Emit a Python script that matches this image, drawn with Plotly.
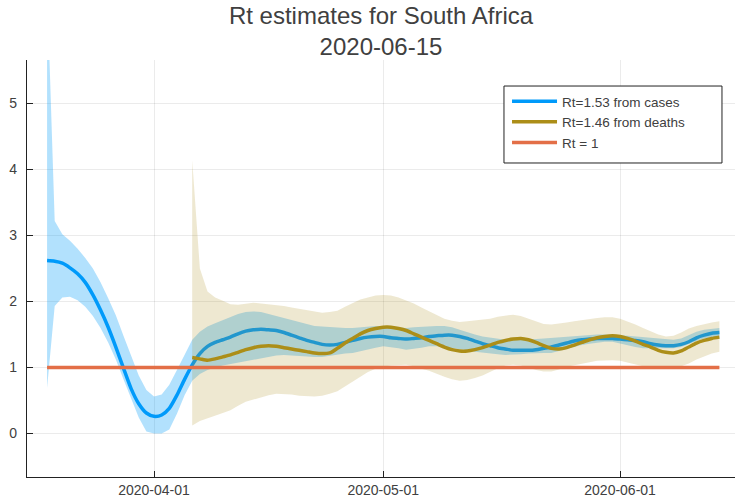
import pandas as pd
import plotly.graph_objects as go

# ---- data -------------------------------------------------------------
cases_start = "2020-03-18"
cases_rt = [2.62, 2.61, 2.58, 2.51, 2.42, 2.29, 2.10, 1.87, 1.61, 1.31,
            0.99, 0.68, 0.45, 0.31, 0.26, 0.28, 0.38, 0.58, 0.82, 1.04,
            1.21, 1.32, 1.38, 1.42, 1.46, 1.51, 1.55, 1.57, 1.58, 1.57,
            1.56, 1.53, 1.49, 1.45, 1.41, 1.38, 1.35, 1.34, 1.35, 1.38,
            1.41, 1.44, 1.46, 1.47, 1.47, 1.45, 1.44, 1.43, 1.44, 1.45,
            1.47, 1.48, 1.49, 1.49, 1.47, 1.44, 1.40, 1.36, 1.33, 1.30,
            1.28, 1.26, 1.26, 1.26, 1.27, 1.29, 1.31, 1.34, 1.37, 1.40,
            1.42, 1.43, 1.44, 1.44, 1.44, 1.43, 1.42, 1.41, 1.39, 1.36,
            1.34, 1.33, 1.33, 1.35, 1.39, 1.45, 1.49, 1.52, 1.53]
cases_upper = [6.80, 3.22, 3.02, 2.92, 2.80, 2.66, 2.50, 2.29, 2.05, 1.79,
               1.48, 1.18, 0.88, 0.66, 0.56, 0.59, 0.74, 0.96, 1.20, 1.42,
               1.54, 1.62, 1.67, 1.72, 1.77, 1.81, 1.84, 1.85, 1.84, 1.81,
               1.78, 1.75, 1.72, 1.69, 1.66, 1.63, 1.62, 1.61, 1.60, 1.60,
               1.60, 1.61, 1.63, 1.63, 1.62, 1.61, 1.60, 1.60, 1.61, 1.62,
               1.63, 1.63, 1.63, 1.61, 1.57, 1.53, 1.50, 1.47, 1.45, 1.43,
               1.42, 1.42, 1.42, 1.42, 1.43, 1.44, 1.45, 1.46, 1.47, 1.48,
               1.49, 1.49, 1.50, 1.50, 1.50, 1.49, 1.48, 1.47, 1.46, 1.45,
               1.43, 1.42, 1.42, 1.44, 1.49, 1.54, 1.57, 1.59, 1.60]
cases_lower = [0.69, 1.93, 2.06, 2.07, 2.02, 1.92, 1.78, 1.60, 1.38, 1.12,
               0.82, 0.52, 0.24, 0.03, 0.00, 0.00, 0.06, 0.30, 0.58, 0.80,
               0.90, 0.96, 1.00, 1.03, 1.06, 1.08, 1.10, 1.12, 1.14, 1.16,
               1.18, 1.19, 1.19, 1.18, 1.17, 1.16, 1.16, 1.17, 1.19, 1.21,
               1.22, 1.24, 1.27, 1.30, 1.32, 1.31, 1.29, 1.27, 1.28, 1.30,
               1.32, 1.32, 1.31, 1.30, 1.28, 1.26, 1.24, 1.23, 1.21, 1.20,
               1.19, 1.19, 1.20, 1.21, 1.22, 1.22, 1.22, 1.24, 1.27, 1.31,
               1.34, 1.36, 1.38, 1.39, 1.39, 1.37, 1.34, 1.31, 1.29, 1.28,
               1.28, 1.29, 1.29, 1.31, 1.35, 1.40, 1.44, 1.46, 1.47]

deaths_start = "2020-04-06"
deaths_rt = [1.15, 1.13, 1.11, 1.13, 1.16, 1.19, 1.23, 1.27, 1.30, 1.32,
             1.33, 1.32, 1.30, 1.28, 1.26, 1.24, 1.22, 1.21, 1.22, 1.29,
             1.37, 1.44, 1.51, 1.56, 1.59, 1.61, 1.61, 1.59, 1.56, 1.51,
             1.46, 1.41, 1.36, 1.31, 1.27, 1.25, 1.25, 1.27, 1.30, 1.34,
             1.38, 1.41, 1.43, 1.44, 1.42, 1.38, 1.33, 1.29, 1.28, 1.30,
             1.34, 1.38, 1.42, 1.45, 1.47, 1.48, 1.47, 1.44, 1.40, 1.35,
             1.31, 1.26, 1.23, 1.22, 1.25, 1.31, 1.37, 1.41, 1.44, 1.46]
deaths_upper = [4.14, 2.50, 2.15, 2.06, 2.01, 1.96, 1.95, 1.97, 1.98, 1.97,
                1.96, 1.95, 1.93, 1.91, 1.89, 1.87, 1.84, 1.83, 1.84, 1.86,
                1.92, 1.98, 2.03, 2.06, 2.09, 2.10, 2.09, 2.06, 2.02, 1.97,
                1.91, 1.85, 1.79, 1.74, 1.71, 1.69, 1.70, 1.71, 1.72, 1.74,
                1.77, 1.79, 1.80, 1.78, 1.74, 1.70, 1.66, 1.65, 1.66, 1.68,
                1.70, 1.72, 1.74, 1.75, 1.76, 1.76, 1.74, 1.70, 1.65, 1.60,
                1.55, 1.50, 1.47, 1.48, 1.53, 1.59, 1.63, 1.66, 1.68, 1.70]
deaths_lower = [0.12, 0.19, 0.23, 0.27, 0.31, 0.35, 0.42, 0.48, 0.52, 0.55,
                0.58, 0.60, 0.60, 0.59, 0.57, 0.56, 0.56, 0.57, 0.60, 0.64,
                0.71, 0.78, 0.86, 0.93, 0.98, 1.01, 1.03, 1.04, 1.04, 1.02,
                0.98, 0.95, 0.91, 0.86, 0.82, 0.80, 0.81, 0.84, 0.88, 0.93,
                0.99, 1.03, 1.04, 1.03, 1.00, 0.96, 0.94, 0.94, 0.97, 1.01,
                1.04, 1.06, 1.08, 1.10, 1.11, 1.11, 1.10, 1.08, 1.05, 1.02,
                0.99, 0.98, 0.98, 1.00, 1.02, 1.06, 1.12, 1.17, 1.21, 1.24]

threshold = 1
x_ticks = ["2020-04-01", "2020-05-01", "2020-06-01"]
y_ticks = [0, 1, 2, 3, 4, 5]
title_lines = ["Rt estimates for South Africa", "2020-06-15"]

# ---- styling ----------------------------------------------------------
BLUE = "#009AFA"
GOLD = "#AC8E18"
RED = "#E36F47"
TEXT = "#404040"
FONT = "Liberation Sans, Arial, Helvetica, sans-serif"

cases_dates = pd.date_range(cases_start, periods=len(cases_rt), freq="D")
deaths_dates = pd.date_range(deaths_start, periods=len(deaths_rt), freq="D")


def band(dates, upper, lower, color):
    xs = list(dates) + list(dates[::-1])
    ys = list(upper) + list(lower[::-1])
    return go.Scatter(x=xs, y=ys, fill="toself", fillcolor=color,
                      line=dict(width=0), mode="lines",
                      hoverinfo="skip", showlegend=False)


fig = go.Figure()
fig.add_trace(band(cases_dates, cases_upper, cases_lower, "rgba(0,154,250,0.30)"))
fig.add_trace(go.Scatter(x=cases_dates, y=cases_rt, mode="lines",
                         line=dict(color=BLUE, width=3.5, shape="spline", smoothing=0.6),
                         name=f"Rt={cases_rt[-1]:.2f} from cases"))
fig.add_trace(band(deaths_dates, deaths_upper, deaths_lower, "rgba(172,142,24,0.20)"))
fig.add_trace(go.Scatter(x=deaths_dates, y=deaths_rt, mode="lines",
                         line=dict(color=GOLD, width=3.5, shape="spline", smoothing=0.6),
                         name=f"Rt={deaths_rt[-1]:.2f} from deaths"))
fig.add_trace(go.Scatter(x=[cases_dates[0], cases_dates[-1]],
                         y=[threshold, threshold], mode="lines",
                         line=dict(color=RED, width=3.5),
                         name=f"Rt = {threshold}"))

# framed white box behind the legend entries
fig.add_shape(type="rect", xref="paper", yref="paper",
              x0=0.6737, x1=0.9816, y0=0.7530, y1=0.9376,
              fillcolor="white", line=dict(color="#222222", width=1),
              layer="above")

fig.update_layout(
    width=735, height=500,
    margin=dict(l=27, r=0, t=60, b=23),
    paper_bgcolor="white", plot_bgcolor="white",
    font=dict(family=FONT, color=TEXT, size=14),
    title=dict(text="<br>".join(title_lines), x=0.5, xref="paper",
               y=0.952, yref="container", yanchor="bottom",
               font=dict(size=24, color=TEXT)),
    legend=dict(x=0.678, xanchor="left", y=0.9376, yanchor="top",
                bgcolor="rgba(0,0,0,0)", borderwidth=0,
                font=dict(size=13.5, color=TEXT), itemwidth=45),
    showlegend=True,
)
fig.update_xaxes(
    type="date", range=["2020-03-15 09:00", "2020-06-16 01:00"],
    tickvals=x_ticks, ticktext=x_ticks,
    showgrid=True, gridcolor="rgba(0,0,0,0.08)", gridwidth=1,
    showline=True, linecolor="#222222", linewidth=1.2,
    ticks="inside", ticklen=6, tickcolor="#222222",
    zeroline=False, tickfont=dict(size=14, color=TEXT),
)
fig.update_yaxes(
    range=[-0.66, 5.66], tickvals=y_ticks,
    showgrid=True, gridcolor="rgba(0,0,0,0.08)", gridwidth=1,
    showline=True, linecolor="#222222", linewidth=1.2,
    ticks="inside", ticklen=6, tickcolor="#222222",
    zeroline=False, tickfont=dict(size=14, color=TEXT),
    ticklabelstandoff=6,
)

fig.write_html("out.html")
